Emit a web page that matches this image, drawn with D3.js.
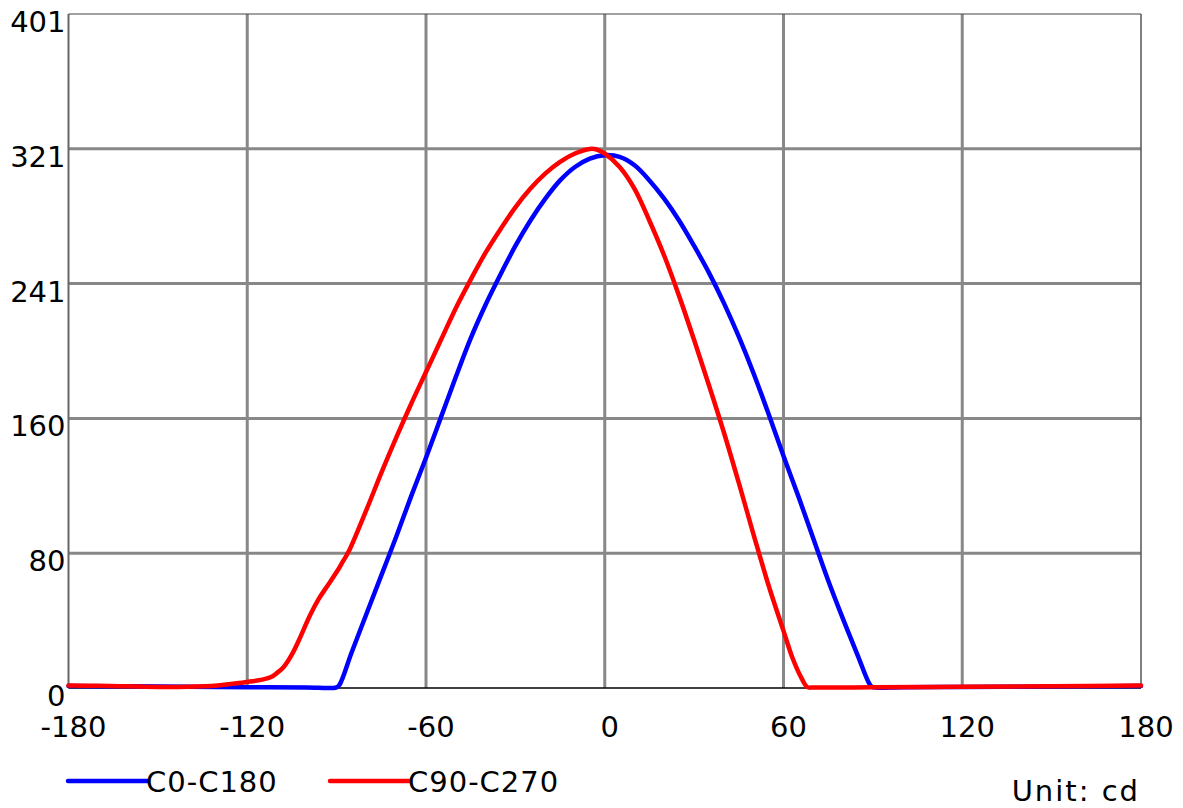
<!DOCTYPE html>
<html>
<head>
<meta charset="utf-8">
<script src="https://cdn.jsdelivr.net/npm/d3@7"></script>
<style>
  body { margin: 0; background: #fff; }
  svg { display: block; font-family: "DejaVu Sans", Verdana, sans-serif; }
</style>
</head>
<body>
<svg id="chart" width="1183" height="808"></svg>
<script>
// angle (deg) / intensity (cd)
const anglesC0 = [-180, -160, -140, -120, -100, -90, -89, -85, -80, -75, -70, -65, -60, -55, -50, -45, -40, -35, -30, -25, -20, -15, -10, -5, 0, 5, 10, 15, 20, 25, 30, 35, 40, 45, 50, 55, 60, 65, 70, 75, 80, 85, 89, 90, 100, 120, 140, 160, 180];
const valuesC0 = [1.2, 1.0, 0.8, 0.5, 0.3, 0.4, 2, 21, 44, 67, 90, 114, 137, 161, 185, 208, 228, 246, 263, 278, 291, 302, 310, 315, 317, 316, 311, 302, 291, 278, 263, 247, 229, 209, 187, 163, 138, 114, 89, 64, 41, 19, 2, 0.5, 0.5, 0.6, 0.8, 1.0, 1.2];

const anglesC90 = [-180, -170, -160, -150, -140, -130, -125, -120, -115, -112, -110, -108, -105, -102, -99, -96, -93, -90, -88, -86, -80, -75, -70, -65, -60, -55, -50, -45, -40, -35, -30, -25, -20, -15, -10, -5, -3, 0, 5, 10, 15, 20, 25, 30, 35, 40, 45, 50, 55, 60, 63, 66, 68, 70, 90, 120, 150, 180];
const valuesC90 = [1.5, 1.3, 1.0, 0.6, 0.7, 1.5, 2.5, 3.6, 5, 6.5, 9, 12, 20, 31, 43, 53, 61, 69, 75, 81, 106, 128, 149, 169, 188, 207, 226, 243, 259, 273, 286, 297, 306, 313, 318, 320.7, 320.5, 318, 310, 297, 278, 257, 233, 207, 180, 152, 122, 91, 61, 34, 18, 6, 0.5, 0.3, 0.4, 0.7, 1.0, 1.5];

const xTicks = [-180, -120, -60, 0, 60, 120, 180];
const yTicks = [0, 80.2, 160.4, 240.6, 320.8, 401];
const yTickLabels = ["0", "80", "160", "241", "321", "401"];

const seriesNames = ["C0-C180", "C90-C270"];
const seriesColors = ["#0000ff", "#ff0000"];

const svg = d3.select("#chart");
const plotL = 68.5, plotR = 1141, plotT = 14, plotB = 688;

const x = d3.scaleLinear().domain([-180, 180]).range([plotL, plotR]);
const y = d3.scaleLinear().domain([0, 401]).range([plotB, plotT]);

// grid
svg.append("g").selectAll("line")
  .data(xTicks.slice(1, -1))
  .enter().append("line")
    .attr("x1", d => x(d)).attr("x2", d => x(d))
    .attr("y1", plotT).attr("y2", plotB)
    .attr("stroke", "#888").attr("stroke-width", 3);

svg.append("g").selectAll("line")
  .data(yTicks.slice(1, -1))
  .enter().append("line")
    .attr("x1", plotL).attr("x2", plotR)
    .attr("y1", d => y(d)).attr("y2", d => y(d))
    .attr("stroke", "#888").attr("stroke-width", 3);

// frame
svg.append("line").attr("x1", plotL).attr("x2", plotR).attr("y1", plotT).attr("y2", plotT)
  .attr("stroke", "#444").attr("stroke-width", 1.2);
svg.append("line").attr("x1", plotL).attr("x2", plotL).attr("y1", plotT).attr("y2", plotB)
  .attr("stroke", "#666").attr("stroke-width", 2);
svg.append("line").attr("x1", plotR).attr("x2", plotR).attr("y1", plotT).attr("y2", plotB)
  .attr("stroke", "#555").attr("stroke-width", 1.5);
svg.append("line").attr("x1", plotL).attr("x2", plotR).attr("y1", plotB).attr("y2", plotB)
  .attr("stroke", "#000").attr("stroke-width", 1.5);

// tick labels
svg.append("g").selectAll("text")
  .data(yTicks)
  .enter().append("text")
    .attr("x", plotL - 3)
    .attr("y", d => y(d) + 18)
    .attr("text-anchor", "end")
    .style("font-size", "29px")
    .text((d, i) => yTickLabels[i]);

svg.append("g").selectAll("text")
  .data(xTicks)
  .enter().append("text")
    .attr("x", d => x(d) + 5)
    .attr("y", 737)
    .attr("text-anchor", "middle")
    .style("font-size", "29px")
    .text(d => d);

// curves
const line = d3.line()
  .x(d => x(d[0]))
  .y(d => y(d[1]))
  .curve(d3.curveCatmullRom.alpha(0.5));

const series = [
  d3.zip(anglesC0, valuesC0),
  d3.zip(anglesC90, valuesC90)
];

series.forEach((pts, i) => {
  svg.append("path")
    .datum(pts)
    .attr("fill", "none")
    .attr("stroke", seriesColors[i])
    .attr("stroke-width", 4.5)
    .attr("stroke-linejoin", "round")
    .attr("stroke-linecap", "round")
    .attr("d", line);
});

// legend
const legendX = [68, 330];
seriesNames.forEach((name, i) => {
  svg.append("line")
    .attr("x1", legendX[i]).attr("x2", legendX[i] + 80)
    .attr("y1", 781).attr("y2", 781)
    .attr("stroke", seriesColors[i]).attr("stroke-width", 4.5)
    .attr("stroke-linecap", "round");
  svg.append("text")
    .attr("x", legendX[i] + 78)
    .attr("y", 792)
    .style("font-size", "29px")
    .style("letter-spacing", "1px")
    .text(name);
});

svg.append("text")
  .attr("x", 1140)
  .attr("y", 801)
  .attr("text-anchor", "end")
  .style("font-size", "29px")
  .style("letter-spacing", "2px")
  .text("Unit: cd");
</script>
</body>
</html>
